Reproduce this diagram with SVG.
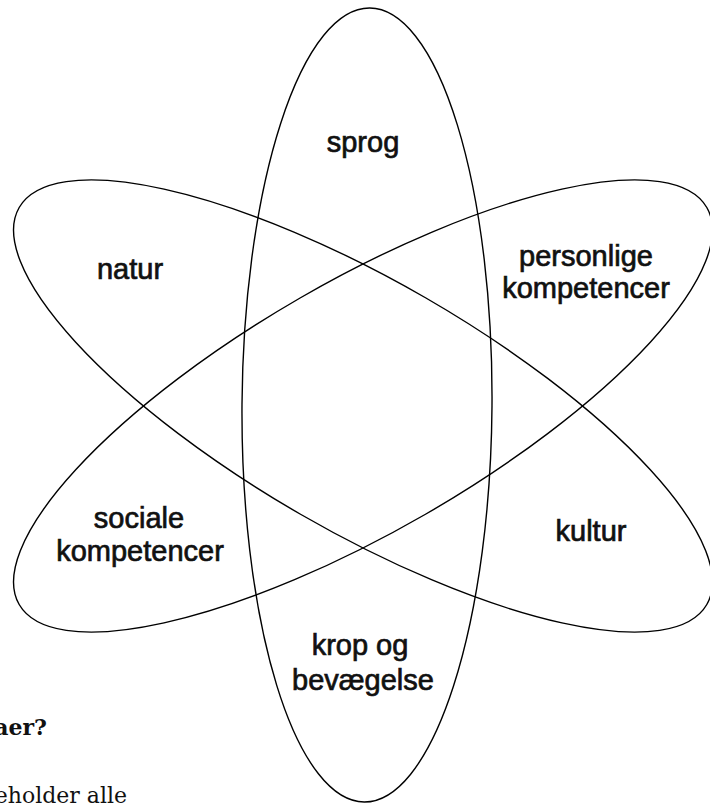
<svg xmlns="http://www.w3.org/2000/svg" width="710" height="805" viewBox="0 0 710 805">
<style>
.orb{fill:none;stroke:#000;stroke-width:1.4}
.lbl{font-family:"Liberation Sans",Arial,sans-serif;font-size:29px;fill:#111;text-anchor:middle;stroke:#111;stroke-width:0.7}
.body{font-family:"DejaVu Serif","Liberation Serif",serif;font-size:22px;fill:#111}
</style>
<rect width="710" height="805" fill="#fff"/>
<text class="body" x="47" y="735" text-anchor="end" font-weight="bold">aer?</text>
<text class="body" x="127" y="803" text-anchor="end">eholder alle</text>
<g id="connectors"></g>
<g id="orbit-vertical"><ellipse class="orb" cx="367" cy="405" rx="125" ry="397" transform="rotate(0.4 367 405)"/></g>
<g id="orbit-natur-kultur"><ellipse class="orb" cx="363" cy="406" rx="125" ry="397" transform="rotate(-60 363 406)"/></g>
<g id="orbit-sociale-personlige"><ellipse class="orb" cx="363" cy="406" rx="125" ry="397" transform="rotate(60 363 406)"/></g>
<g id="sprog"><text class="lbl" x="363" y="152">sprog</text></g>
<g id="natur"><text class="lbl" x="130" y="279">natur</text></g>
<g id="personlige"><text class="lbl" x="586" y="266">personlige<tspan x="586" dy="32">kompetencer</tspan></text></g>
<g id="sociale"><text class="lbl" x="139" y="528">sociale<tspan x="140" dy="33">kompetencer</tspan></text></g>
<g id="kultur"><text class="lbl" x="591" y="541">kultur</text></g>
<g id="krop"><text class="lbl" x="360" y="655">krop og<tspan x="363" dy="35">bevægelse</tspan></text></g>
</svg>
